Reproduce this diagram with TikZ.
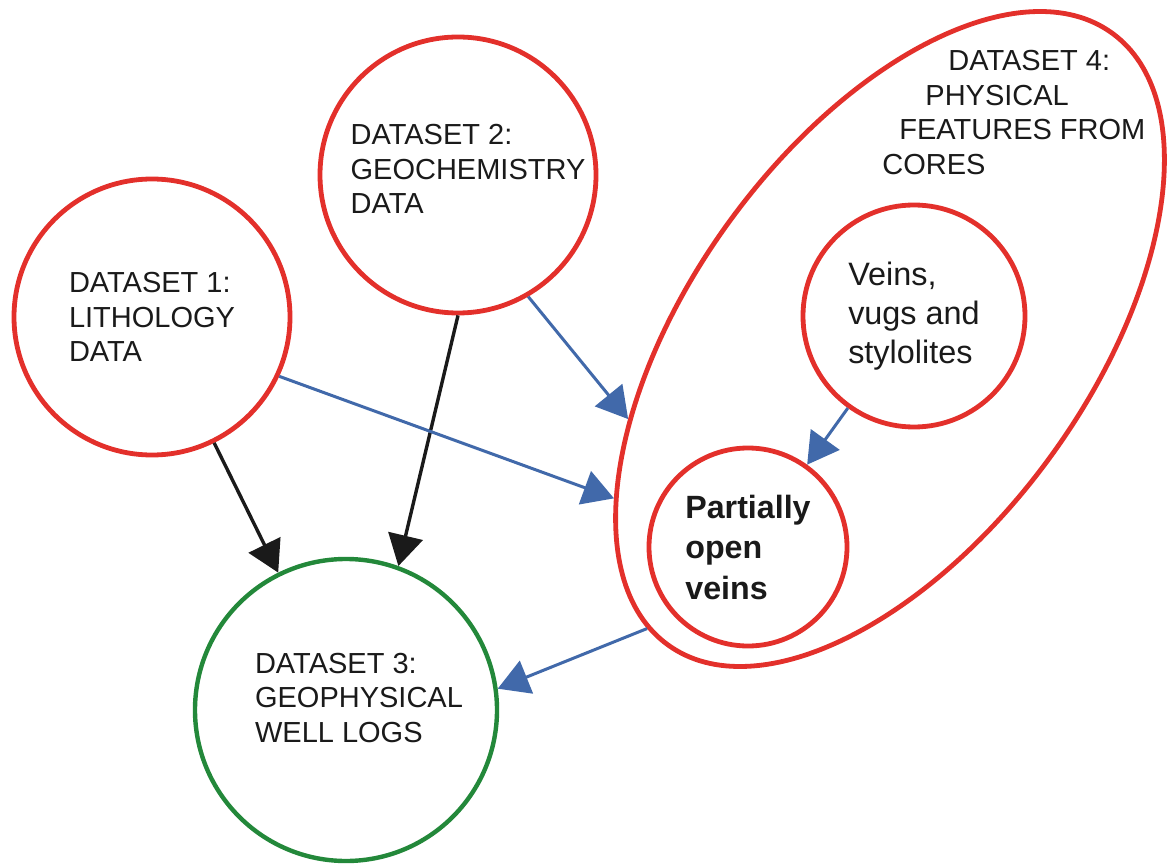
\documentclass[tikz,border=0pt]{standalone}
\usepackage{fontspec}
\setmainfont{Liberation Sans}
\usepackage{xcolor}
\definecolor{cRed}{HTML}{E3302B}
\definecolor{cGreen}{HTML}{23883A}
\definecolor{cBlue}{HTML}{4169AA}
\definecolor{cInk}{HTML}{1A1A1A}
\usepackage{tikz}
\usetikzlibrary{positioning,arrows.meta,shapes.geometric}
\tikzset{
  node-set/.style={draw=cRed,line width=2.4pt,circle,inner sep=0pt,align=left,
    text=cInk,font={\fontsize{14.5}{17.25}\selectfont}},
  node-well/.style={node-set,draw=cGreen,line width=2.2pt},
  node-group/.style={draw=cRed,line width=2.4pt,ellipse,inner sep=0pt},
  txt-set/.style={align=left,text=cInk,inner sep=0pt,
    font={\fontsize{14.5}{17.25}\selectfont}},
  arrow/.style={-{Triangle[length=15.5pt,width=17.5pt]},line width=1.7pt,draw=cInk},
  arrow-link/.style={arrow,line width=1.5pt,draw=cBlue},
}

\begin{document}
\begin{tikzpicture}[x=0.5pt,y=-0.5pt]
  \useasboundingbox (0,0) rectangle (1167,866);
  \node[node-set,minimum size=138pt] (d1) at (152,317) {DATASET 1:\\LITHOLOGY\\DATA};
  \node[node-set,minimum size=138pt] (d2) at (458,175) {};
  \node[txt-set] at (468,169) {DATASET 2:\\GEOCHEMISTRY\\DATA};
  \node[node-well,minimum size=151pt] (d3) at (346,710) {};
  \node[txt-set] at (359,698) {DATASET 3:\\GEOPHYSICAL\\WELL LOGS};
  % dataset 4 groups the core features
  \node[node-group,minimum width=378pt,minimum height=199pt,rotate=54] (d4) at (890,339) {};
  \node[txt-set,anchor=north west] at (882,50)
    {\hspace*{33pt}DATASET 4:\\\hspace*{21.5pt}PHYSICAL\\\hspace*{8.5pt}FEATURES FROM\\CORES};
  \node[node-set,minimum size=111pt,font={\fontsize{16.2}{19.5}\selectfont}] (veins) at (914,316)
    {Veins,\\vugs and\\stylolites};
  \node[node-set,minimum size=99pt,font={\bfseries\fontsize{16.1}{20.25}\selectfont}] (pov) at (748,547)
    {Partially\\open\\veins};
  \draw[arrow] (d1) -- (d3);
  \draw[arrow] (d2.south) -- (d3.70);
  \draw[arrow-link] (d1.-25) -- (d4.156);
  \draw[arrow-link] (d2.-60) -- (d4.143);
  \draw[arrow-link] (veins) -- (pov);
  \draw[arrow-link] (d4.176) -- (d3.8);
\end{tikzpicture}
\end{document}
